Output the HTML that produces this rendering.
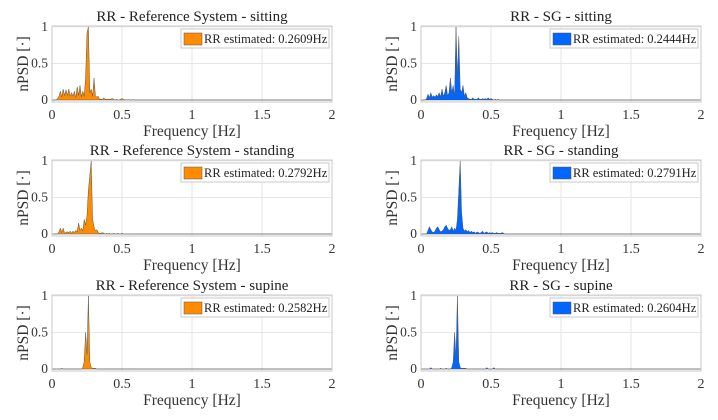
<!DOCTYPE html>
<html><head><meta charset="utf-8"><style>
body{margin:0;background:#fff}
svg{display:block;font-family:"Liberation Serif",serif}
</style></head><body>
<svg id="fig" width="718" height="420"></svg>
<script>
const freqStep = 0.01;
const xTicks = [0, 0.5, 1, 1.5, 2];
const xTickLabels = ["0", "0.5", "1", "1.5", "2"];
const yTicks = [0, 0.5, 1];
const yTickLabels = ["0", "0.5", "1"];
const titles = ["RR - Reference System - sitting","RR - SG - sitting","RR - Reference System - standing","RR - SG - standing","RR - Reference System - supine","RR - SG - supine"];
const legendLabels = ["RR estimated: 0.2609Hz","RR estimated: 0.2444Hz","RR estimated: 0.2792Hz","RR estimated: 0.2791Hz","RR estimated: 0.2582Hz","RR estimated: 0.2604Hz"];
const refSitting = [0,0,0,0,0.02,0.05,0.12,0.04,0.15,0.06, 0.14,0.06,0.15,0.05,0.10,0.05,0.12,0.03,0.18,0.06, 0.20,0.04,0.12,0.05,0.30,0.92,1.00,0.10,0.15,0.05, 0.30,0.06,0.04,0.05,0.01,0.01,0.01,0.03,0.01,0.01, 0.01,0.01,0.01,0.02,0.01,0,0.01,0,0,0.01, 0.02,0.01,0,0.005,0,0.005,0,0,0.005,0,0];
const sgSitting = [0,0,0,0,0.02,0.08,0.03,0.10,0.04,0.06, 0.04,0.07,0.05,0.10,0.04,0.15,0.05,0.10,0.20,0.06, 0.10,0.30,0.10,0.20,0.05,1.00,0.30,0.87,0.15,0.10, 0.20,0.05,0.10,0.03,0.02,0.01,0.01,0.03,0.01,0.01, 0.01,0.03,0.01,0.01,0.02,0.01,0.02,0.01,0.03,0.01, 0.02,0.01,0,0.01,0,0.01,0,0,0,0,0];
const refStanding = [0,0,0,0,0,0.03,0.08,0.02,0.08,0.01, 0.02,0.03,0.02,0.04,0.01,0.04,0.02,0.05,0.03,0.15, 0.05,0.08,0.04,0.20,0.12,0.25,0.60,0.80,1.00,0.20, 0.10,0.04,0.06,0.02,0.01,0.01,0.02,0.01,0,0.01, 0,0.01,0,0,0.01,0,0,0.01,0,0, 0.01,0,0,0,0,0,0,0,0,0,0];
const sgStanding = [0,0,0,0,0,0.05,0.10,0.06,0.03,0.02, 0.04,0.08,0.10,0.06,0.03,0.04,0.06,0.10,0.12,0.08, 0.05,0.06,0.10,0.04,0.08,0.05,0.20,0.60,1.00,0.30, 0.08,0.04,0.06,0.03,0.05,0.02,0.04,0.02,0.03,0.01, 0.03,0.02,0.01,0.02,0.04,0.01,0.02,0.03,0.01,0.02, 0.01,0.02,0.01,0.01,0.02,0.01,0.01,0.01,0.02,0.01,0];
const refSupine = [0,0,0,0,0,0,0,0.01,0,0, 0,0,0,0,0,0,0,0,0,0, 0,0,0.02,0.10,0.50,0.20,1.00,0.10,0.02,0.01, 0.01,0.01,0,0,0,0,0,0,0,0, 0,0,0,0,0,0,0,0,0,0, 0,0,0,0,0,0,0,0,0,0,0];
const sgSupine = [0,0,0,0,0,0,0,0.02,0,0, 0,0,0,0,0.01,0,0,0,0.01,0, 0,0,0.02,0.10,0.50,0.15,1.00,0.10,0.02,0.01, 0.01,0.01,0.01,0,0,0,0,0,0,0, 0,0,0,0,0,0,0,0.02,0,0, 0,0,0.02,0,0,0,0,0,0,0,0];
const series = [refSitting, sgSitting, refStanding, sgStanding, refSupine, sgSupine];

const svg = document.getElementById('fig');
const NS = 'http://www.w3.org/2000/svg';
function mk(tag, attrs, parent){const e=document.createElementNS(NS,tag);for(const k in attrs)e.setAttribute(k,attrs[k]);(parent||svg).appendChild(e);return e;}
const colors = ['#ff8c00','#0066ff'];
const boxL=[52,421], boxW=280, boxT=[26,160,295], boxH=76;
for(let i=0;i<6;i++){
  const col=i%2,row=Math.floor(i/2);
  const L=boxL[col],T=boxT[row];
  const g=mk('g',{});
  
  
  const xs=v=>L+v/2*boxW;
  const ys=v=>T+boxH-2-(v)/1.04*boxH;
  mk('rect',{x:L,y:T,width:boxW,height:boxH,fill:'#fff'},g);
  xTicks.forEach(t=>{if(t>0&&t<2){const l=mk('line',{x1:xs(t),x2:xs(t),y1:T,y2:T+boxH,stroke:'#e6e6e6','stroke-width':1},g);}});
  yTicks.forEach(t=>{if(t>0){const l=mk('line',{x1:L,x2:L+boxW,y1:ys(t),y2:ys(t),stroke:'#e6e6e6','stroke-width':1},g);}});
  const d=series[i];
  let pts=xs(0)+','+ys(0);
  d.forEach((v,k)=>{pts+=' '+xs(k*freqStep)+','+ys(v);});
  pts+=' '+xs(2)+','+ys(0);
  const a=mk('polygon',{points:pts,fill:colors[col],stroke:'#555','stroke-width':0.5,'stroke-linejoin':'round'},g);
  
  
  mk('rect',{x:L,y:T,width:boxW,height:boxH,fill:'none',stroke:'#c8c8c8','stroke-width':1},g);
  xTicks.forEach((t,k)=>{const tx=mk('text',{x:xs(t),y:T+boxH+17,'text-anchor':'middle','font-size':14,fill:'#333'},g);tx.textContent=xTickLabels[k];});
  yTicks.forEach((t,k)=>{const tx=mk('text',{x:L-4,y:ys(t)+4,'text-anchor':'end','font-size':13.5,fill:'#333'},g);tx.textContent=yTickLabels[k];});
  const xl=mk('text',{x:L+boxW/2,y:T+boxH+34,'text-anchor':'middle','font-size':15.5,fill:'#333'},g);
  xl.textContent='Frequency [Hz]';
  
  
  const yl=mk('text',{x:0,y:0,'text-anchor':'middle','font-size':15.5,fill:'#333',transform:`translate(${L-24},${T+boxH/2}) rotate(-90)`},g);
  yl.textContent='nPSD [\u00b7]';
  
  
  const ti=mk('text',{x:L+boxW/2,y:T-5,'text-anchor':'middle','font-size':15,fill:'#222'},g);
  ti.textContent=titles[i];
  
  
  const lw=148,lx=L+boxW-lw-3,ly=T+3;
  const lg=mk('g',{},g);
  
  
  mk('rect',{x:lx,y:ly,width:lw,height:19,fill:'#fff',stroke:'#c8c8c8','stroke-width':1},lg);
  mk('rect',{x:lx+3,y:ly+4,width:18,height:12,fill:colors[col],stroke:'#555','stroke-width':0.5},lg);
  const lt=mk('text',{x:lx+23,y:ly+14,'font-size':12.5,fill:'#222'},lg);
  lt.textContent=legendLabels[i];
  
  
}
</script>
</body></html>
